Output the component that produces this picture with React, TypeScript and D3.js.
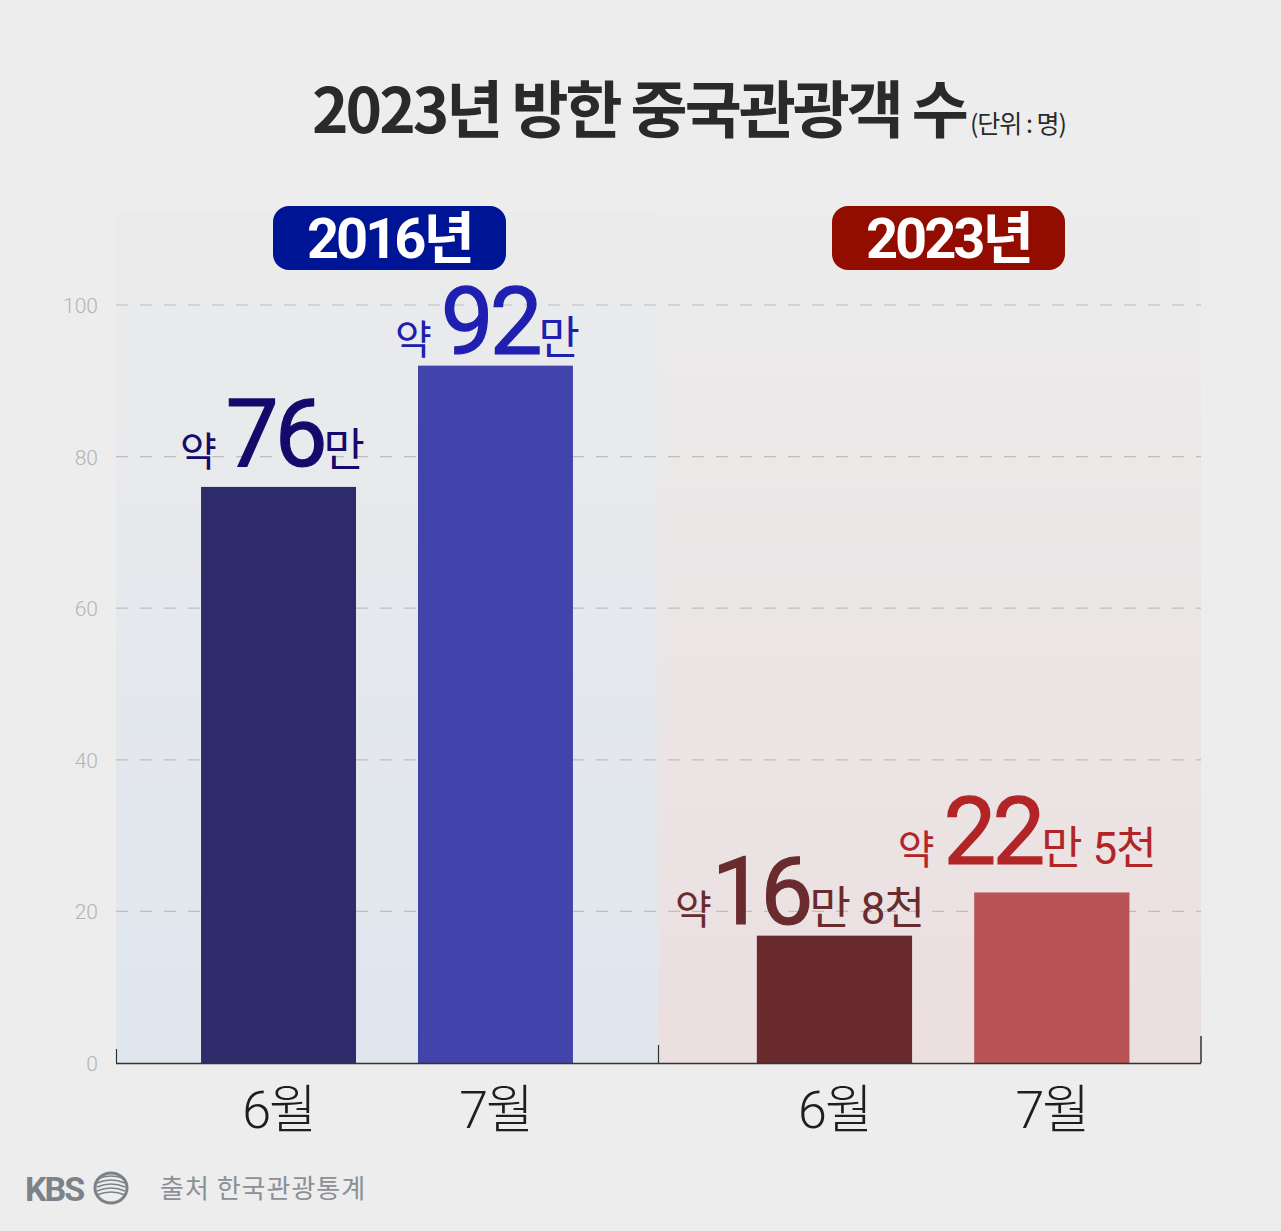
import React from "react";
import * as d3 from "d3";

const W = 1281;
const H = 1231;

const months = ["6월", "7월"];
const values2016 = [76, 92];
const values2023 = [16.8, 22.5];
const labelPre2016 = ["약 ", "약 "];
const labelMain2016 = ["76", "92"];
const labelRest2016 = ["", ""];
const labelPre2023 = ["약", "약 "];
const labelMain2023 = ["16", "22"];
const labelRest2023 = [" 8천", " 5천"];
const yTicks = [0, 20, 40, 60, 80, 100];
const years = ["2016년", "2023년"];

const SANS = "Roboto, 'Noto Sans CJK KR', sans-serif";
const KR = "'Noto Sans CJK KR', 'Noto Sans', sans-serif";

export default function App() {
  const y = d3.scaleLinear().domain([0, 100]).range([1063, 305]);
  const xL = d3.scaleBand<string>().domain(months).range([116, 658]).paddingInner(0.2857).paddingOuter(0.392);
  const xR = d3.scaleBand<string>().domain(months).range([658, 1201]).paddingInner(0.2857).paddingOuter(0.392).align(0.58);

  const panels = [
    {
      x0: 116, x1: 658, scale: xL, values: values2016, pre: labelPre2016, main: labelMain2016, rest: labelRest2016,
      barColors: ["#2e2b6b", "#4343ac"], labelColors: ["#17096b", "#2020b0"],
      grad: "gL", badge: "#001596", labelDx: [-6, -8], labelDy: [-21, -12], yearLabel: years[0], badgeX: 273,
    },
    {
      x0: 658, x1: 1201, scale: xR, values: values2023, pre: labelPre2023, main: labelMain2023, rest: labelRest2023,
      barColors: ["#692b2e", "#b85455"], labelColors: ["#692b2e", "#b22527"], grad: "gR", badge: "#920d00",
      labelDx: [-35, -25], labelDy: [-12, -28], yearLabel: years[1], badgeX: 832,
    },
  ];

  return (
    <svg width={W} height={H} style={{ display: "block", position: "absolute", left: 0, top: 0 }}>
      <defs>
        <linearGradient id="gL" x1="0" y1="0" x2="0" y2="1">
          <stop offset="0" stopColor="#ebebeb" />
          <stop offset="1" stopColor="#dfe6ee" />
        </linearGradient>
        <linearGradient id="gR" x1="0" y1="0" x2="0" y2="1">
          <stop offset="0" stopColor="#ececec" />
          <stop offset="1" stopColor="#ebdfe0" />
        </linearGradient>
      </defs>
      <rect x={0} y={0} width={W} height={H} fill="#ededed" />

      {/* panels */}
      {panels.map((p, i) => (
        <rect key={"pan" + i} x={p.x0} y={212} width={p.x1 - p.x0} height={1063 - 212} fill={`url(#${p.grad})`} />
      ))}

      {/* title */}
      <text x={312} y={133} fontFamily={KR} fontWeight={700} fontSize={62} fill="#2a2a2a" letterSpacing={-3}>
        2023년 방한 중국관광객 수
        <tspan fontSize={25} fontWeight={400} dx={4} letterSpacing={-1}>(단위 : 명)</tspan>
      </text>

      {/* gridlines */}
      {yTicks.filter((t) => t > 0).map((t) => (
        <line key={"g" + t} x1={116} x2={1201} y1={y(t)} y2={y(t)} stroke="#bdbdbd" strokeWidth={1.2} strokeDasharray="12,12" />
      ))}
      {yTicks.map((t) => (
        <text key={"t" + t} x={98} y={y(t) + 8} textAnchor="end" fontFamily={SANS} fontSize={21} fontWeight={300} fill="#b4b4b4">
          {t}
        </text>
      ))}

      {/* badges */}
      {panels.map((p, i) => (
        <g key={"b" + i}>
          <rect x={p.badgeX} y={206} width={233} height={64} rx={16} fill={p.badge} />
          <text x={p.badgeX + 116.5} y={258} textAnchor="middle" fontFamily={SANS} fontWeight={700} fontSize={56} fill="#fff" letterSpacing={-3}>
            {p.yearLabel}
          </text>
        </g>
      ))}

      {/* bars */}
      {panels.map((p, i) =>
        months.map((m, j) => (
          <rect key={`bar${i}${j}`} x={p.scale(m)} y={y(p.values[j])} width={p.scale.bandwidth()} height={y(0) - y(p.values[j])} fill={p.barColors[j]} />
        ))
      )}

      {/* value labels */}
      {panels.map((p, i) =>
        months.map((m, j) => (
          <text
            key={`lab${i}${j}`}
            x={(p.scale(m) as number) + p.scale.bandwidth() / 2 + p.labelDx[j]}
            y={y(p.values[j]) + p.labelDy[j]}
            textAnchor="middle"
            fontFamily={SANS}
            fill={p.labelColors[j]}
          >
            <tspan fontSize={40} fontFamily={KR}>{p.pre[j]}</tspan>
            <tspan fontSize={94} fontWeight={400} letterSpacing={-4} stroke={p.labelColors[j]} strokeWidth={1.2}>{p.main[j]}</tspan>
            <tspan fontSize={45} fontFamily={KR}>만</tspan>
            <tspan fontSize={44} letterSpacing={-1}>{p.rest[j]}</tspan>
          </text>
        ))
      )}

      {/* axis baseline and ticks */}
      <line x1={116} x2={1201} y1={1063.5} y2={1063.5} stroke="#333" strokeWidth={1.5} />
      <line x1={116.5} x2={116.5} y1={1049} y2={1063} stroke="#333" strokeWidth={1.2} />
      <line x1={658.5} x2={658.5} y1={1045} y2={1063} stroke="#333" strokeWidth={1.2} />
      <line x1={1201} x2={1201} y1={1036} y2={1063} stroke="#333" strokeWidth={1.5} />

      {/* month labels */}
      {panels.map((p, i) =>
        months.map((m, j) => (
          <text
            key={`m${i}${j}`}
            x={(p.scale(m) as number) + p.scale.bandwidth() / 2}
            y={1128}
            textAnchor="middle"
            fontFamily={SANS}
            fontWeight={300}
            fontSize={52}
            fill="#1e1e1e"
            letterSpacing={-2}
          >
            {m}
          </text>
        ))
      )}

      {/* footer */}
      <text x={25} y={1201} fontFamily={SANS} fontWeight={700} fontSize={34} fill="#7b8289" letterSpacing={-2}>KBS</text>
      <g transform="translate(111,1188)">
        <ellipse cx={0} cy={0} rx={16} ry={15} fill="none" stroke="#7b8289" strokeWidth={3} />
        {[-9, -5, -1, 3, 7].map((d, k) => (
          <path key={k} d={`M-14,${d} Q0,${d - 6} 14,${d}`} fill="none" stroke="#7b8289" strokeWidth={1.6} />
        ))}
      </g>
      <text x={160} y={1198} fontFamily={KR} fontSize={26} fill="#8a9096" letterSpacing={1}>출처 한국관광통계</text>
    </svg>
  );
}
